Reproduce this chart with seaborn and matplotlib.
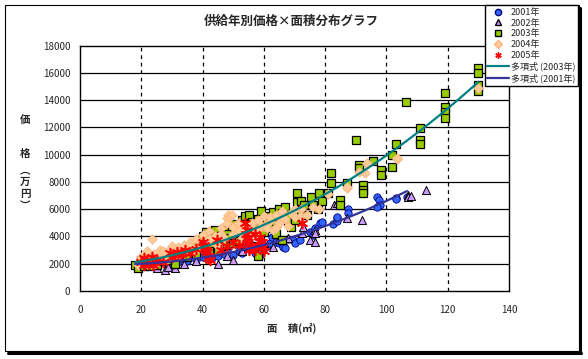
import numpy as np
import pandas as pd
import matplotlib
matplotlib.use('Agg')
import matplotlib.pyplot as plt
from matplotlib.lines import Line2D
import seaborn as sns

# --- data (area m2, price 10k yen) ---
x2001 = [18, 19, 20, 21, 22, 23, 25, 26, 28, 29.4, 30, 32, 33, 35, 36, 38, 40, 41, 42, 43, 44,
         45, 46, 47, 48, 49.6, 50, 51, 52, 53, 54, 55, 56, 57, 58.7, 59.7, 60, 61, 62, 62.7,
         64, 65, 66.3, 66.3, 67, 68, 69.5, 70.2, 71.8, 75, 76, 76.7, 78.3, 79, 82.6, 84, 84,
         84, 87.5, 87.5, 97, 97.6, 97.9, 97, 103, 103, 106.7]
y2001 = [1900, 2000, 1900, 2100, 1800, 2000, 1800, 2200, 2000, 2050, 2300, 2100, 2400, 2200,
         2600, 2300, 2500, 2800, 2600, 2400, 2900, 2600, 2900, 2700, 3000, 3880, 2640, 4250,
         2900, 2780, 3100, 3100, 3400, 2800, 2640, 3000, 3200, 3300, 3520, 3960, 3600, 3500,
         3370, 3220, 3150, 3800, 3740, 3520, 3740, 4320, 4100, 4620, 4980, 5050, 4900, 5350,
         5130, 5420, 6000, 5710, 6890, 6670, 6300, 6150, 6810, 6740, 6890]

x2002 = [25, 27.7, 28.7, 31, 34, 38, 42, 45, 48, 50, 53, 55, 58, 60, 63, 65, 68, 72.4, 72.8,
         75, 76.7, 76.7, 76.7, 83, 84, 87, 92, 107, 107, 108, 113]
y2002 = [1700, 1540, 1760, 1680, 2000, 2200, 2400, 2000, 2600, 2300, 2900, 3300, 3000, 3500,
         3200, 3800, 3900, 4250, 4690, 3740, 3590, 4470, 4250, 6300, 6450, 5350, 5200, 7030,
         6890, 6950, 7400]

x2003 = [18, 19, 20, 20, 21, 22, 23, 24, 25, 26, 27, 28, 29, 30, 31, 32, 33, 34, 35, 35, 36,
         37, 38, 38, 39, 40, 40, 41, 42, 42, 43, 44, 44, 45, 46, 46, 47, 48, 48, 49, 50, 50,
         51, 52, 52, 53, 54, 54, 55, 56, 56, 57, 58, 58, 58, 59, 60, 60, 61, 62, 62, 63, 64,
         64, 65, 65, 66, 66, 67, 68, 68, 69, 70, 70.8, 70.8, 72, 72, 73, 74, 75.4, 76, 77.7,
         78, 79, 81, 82, 82, 84.9, 84.9, 87, 90, 91, 91, 92.4, 92.4, 92.4, 95.6, 98.2, 98.2,
         101.8, 101.8, 103, 106.4, 111, 111, 111, 119.1, 119.1, 119.1, 119.1, 130, 130, 130,
         130]
y2003 = [1900, 1700, 2100, 2300, 1800, 2000, 1800, 2300, 1900, 2500, 2200, 2600, 2300, 2400,
         2000, 2600, 2700, 3000, 2500, 3200, 2900, 3400, 2700, 3500, 3200, 3600, 4000, 4300,
         3000, 3500, 4200, 3800, 4500, 2900, 4000, 3300, 4500, 3400, 4200, 3900, 4900, 3500,
         4470, 3700, 4800, 5200, 4100, 5500, 5600, 5050, 4300, 3300, 2560, 4700, 5300, 5860,
         4300, 5000, 5300, 4600, 5500, 5800, 4900, 4200, 5500, 6000, 5710, 3740, 6200, 5100,
         5600, 4700, 5200, 7180, 6520, 5900, 6600, 6300, 5600, 6890, 6300, 6000, 7200, 6600,
         7180, 8640, 7900, 6670, 6300, 7900, 11060, 9230, 9010, 7770, 7400, 7180, 9520, 8860,
         8500, 9960, 9080, 10770, 13850, 11950, 11060, 10770, 14500, 13500, 13100, 12700,
         16400, 16000, 15100, 14700]

x2004 = [19, 20, 20, 21, 22, 22, 23, 23.5, 24, 24, 25, 26, 26, 27, 28, 28, 29, 30, 30, 31,
         32, 32, 33, 34, 34, 35, 36, 36, 37, 38, 38, 39, 40, 40, 41, 42, 42, 43, 44, 44, 45,
         46, 46, 47, 48, 48, 48.3, 49, 49.6, 50, 50, 51.6, 52, 52, 53, 54, 55, 56, 56, 57,
         58, 58, 59, 60, 60, 61, 62, 62, 63, 64, 64, 65, 66, 66, 67, 68, 69, 70, 70, 72, 72,
         74, 76, 78, 81, 87, 87, 91, 93, 93.7, 93.7, 103.5, 103.5, 130]
y2004 = [1900, 2200, 2500, 2500, 2000, 2900, 2400, 3800, 2700, 2000, 2100, 2600, 3000, 2900,
         2300, 2800, 3000, 2700, 3300, 2500, 3200, 2600, 2800, 3400, 3000, 3000, 3600, 3300,
         3100, 3800, 3000, 3300, 4100, 3300, 3500, 4400, 3800, 3700, 4000, 3500, 3300, 4600,
         4200, 3900, 5350, 4980, 5570, 5420, 5570, 4200, 4700, 4980, 4500, 5000, 3900, 4700,
         4300, 5000, 4600, 4400, 5200, 4500, 4800, 5500, 4800, 4600, 5100, 5400, 4500, 5600,
         4600, 5000, 5900, 5200, 5300, 4800, 5700, 5400, 6000, 6000, 5500, 5600, 6200, 6000,
         7100, 7550, 7620, 8720, 8640, 9300, 9380, 9670, 9740, 14870]

x2005 = [20, 21, 21, 22, 22.5, 23.5, 23.8, 24, 25, 27, 29.4, 30, 31.6, 32, 33, 34.3, 36, 38,
         40, 40.5, 40.8, 41, 41.4, 41.8, 42, 42.4, 44.7, 46, 48, 50, 52, 53.8, 54.2, 54.5,
         54.6, 54.8, 54.5, 55, 55, 56, 57, 57, 58.5, 58.7, 59, 59.4, 59.7, 60, 72.4]
y2005 = [2100, 1900, 2400, 2270, 2000, 2490, 1900, 2200, 2300, 2100, 2780, 2500, 2860, 2640,
         2700, 3000, 2800, 3100, 3590, 3400, 3220, 3000, 2860, 2420, 2600, 2270, 3740, 3000,
         3300, 3600, 3400, 4980, 4200, 4470, 3800, 3960, 3520, 3000, 3300, 3200, 4200, 3000,
         3700, 3960, 3400, 3590, 3220, 2900, 4980]

years = ['2001年', '2002年', '2003年', '2004年', '2005年']
xs = [x2001, x2002, x2003, x2004, x2005]
ys = [y2001, y2002, y2003, y2004, y2005]

df = pd.concat([pd.DataFrame({'面積': x, '価格': y, '年': yr})
                for x, y, yr in zip(xs, ys, years)], ignore_index=True)

sns.set_style('white')
plt.rcParams['font.family'] = ['Noto Sans CJK JP', 'DejaVu Sans']

W, H = 588, 359
fig = plt.figure(figsize=(W / 100, H / 100), dpi=100)
ax = fig.add_axes([80 / W, 1 - 291 / H, 429 / W, 245.3 / H])

# marker styles per year
styles = {
    '2001年': dict(marker='o', s=28, color='#3366FF', edgecolor='#000080', linewidth=0.6),
    '2002年': dict(marker='^', s=34, color='#CC99FF', edgecolor='black', linewidth=0.7),
    '2003年': dict(marker='s', s=36, color='#99CC00', edgecolor='black', linewidth=0.9),
    '2004年': dict(marker='D', s=24, color='#FFCC99', edgecolor='#FFB380', linewidth=0.5),
    '2005年': dict(marker=(6, 2, 0), s=50, color='#FF0000', linewidth=1.2),
}
for yr in years:
    sns.scatterplot(data=df[df['年'] == yr], x='面積', y='価格', ax=ax,
                    zorder=3, legend=False, **styles[yr])

# polynomial trend lines
sns.regplot(data=df[df['年'] == '2003年'], x='面積', y='価格', order=2, ci=None,
            scatter=False, ax=ax, line_kws=dict(color='#008080', lw=1.6, zorder=5))
sns.regplot(data=df[df['年'] == '2001年'], x='面積', y='価格', order=2, ci=None,
            scatter=False, ax=ax, line_kws=dict(color='#333399', lw=1.6, zorder=5))

ax.set_xlim(0, 140)
ax.set_ylim(0, 18000)
ax.set_xticks(np.arange(0, 141, 20))
ax.set_yticks(np.arange(0, 18001, 2000))
ax.tick_params(axis='both', length=0, labelsize=7)
ax.tick_params(axis='y', pad=7)
ax.tick_params(axis='x', pad=10)
for yv in range(2000, 18000, 2000):
    ax.axhline(yv, color='black', lw=0.9, zorder=1)
for xv in range(20, 140, 20):
    ax.axvline(xv, color='black', lw=0.9, ls=(0, (3, 3)), zorder=1)
for sp in ax.spines.values():
    sp.set_color('black')
    sp.set_linewidth(1)
ax.set_xlabel('')
ax.set_ylabel('')

# titles
fig.text(291 / W, 1 - 21 / H, '供給年別価格×面積分布グラフ', ha='center', va='center',
         fontsize=9, fontweight='bold')
fig.text(292 / W, 1 - 328 / H, '面　積(㎡)', ha='center', va='center',
         fontsize=7.5, fontweight='bold')
for ch, py in zip(['価', '格', '︵', '万', '円', '︶'], [121, 154, 171, 182, 194, 207]):
    fig.text(25 / W, 1 - py / H, ch, ha='center', va='center', fontsize=7.5,
             fontweight='bold')

# legend
handles = [Line2D([], [], ls='', marker=styles[yr]['marker'],
                  markerfacecolor=styles[yr]['color'],
                  markeredgecolor=styles[yr].get('edgecolor', styles[yr]['color']),
                  markersize=4.5) for yr in years]
handles += [Line2D([], [], color='#008080', lw=1.6), Line2D([], [], color='#333399', lw=1.6)]
labels = years + ['多項式 (2003年)', '多項式 (2001年)']
leg = fig.legend(handles, labels, loc='upper right', bbox_to_anchor=(578 / W, 1 - 5 / H),
                 fontsize=6.5, frameon=True, fancybox=False, edgecolor='black',
                 framealpha=1, borderpad=0.3, labelspacing=0.2, handlelength=2.4,
                 handletextpad=0.2, borderaxespad=0)
leg.get_frame().set_linewidth(1)
leg.set_zorder(10)

# outer frame with shadow
fig.add_artist(plt.Rectangle((5 / W, 1 - 351 / H), 574 / W, 346 / H, fill=False,
                             edgecolor='black', lw=0.8, transform=fig.transFigure))
fig.add_artist(Line2D([580 / W, 580 / W], [1 - 8 / H, 1 - 353 / H], color='black', lw=2.2,
                      transform=fig.transFigure))
fig.add_artist(Line2D([8 / W, 581 / W], [1 - 352.5 / H, 1 - 352.5 / H], color='black',
                      lw=2.2, transform=fig.transFigure))

fig.savefig('out.png', dpi=100)
